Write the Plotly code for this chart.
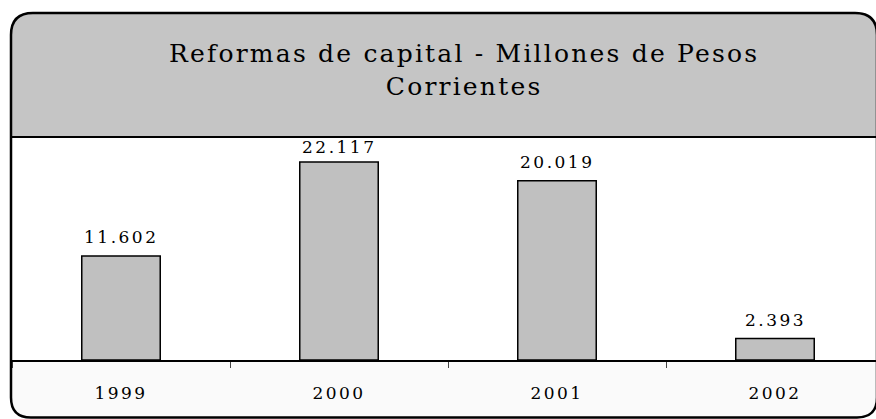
import plotly.graph_objects as go

years = ["1999", "2000", "2001", "2002"]
values = [11.602, 22.117, 20.019, 2.393]
labels = ["11.602", "22.117", "20.019", "2.393"]
title_lines = ["Reformas de capital - Millones de Pesos", "Corrientes"]

W, H = 876, 419
FONT = "DejaVu Serif"
Y_MAX = 24.9

def px(x):
    return x / W

def py(y):
    return 1 - y / H

def spaced(s, sp):
    return f'<span style="letter-spacing:{sp}px">{s}</span>'

top_band, axis_y, left_x = 137, 360, 12
X0, Y0, X1, Y1 = 11, 13, 877, 417.5
r = 22

fig = go.Figure()
fig.add_trace(go.Bar(
    x=years, y=values,
    marker=dict(color="#c0c0c0", line=dict(color="black", width=1.5)),
    width=0.36, cliponaxis=False, hoverinfo="skip",
))

# label offsets: keep labels inside the plot area (Excel-style clamp)
ppu = (axis_y - top_band) / Y_MAX
annotations = []
for i, (v, lab) in enumerate(zip(values, labels)):
    bar_top_px = axis_y - v * ppu
    room = bar_top_px - top_band - 4 - 13 - 5
    shift = max(2, min(7, room))
    annotations.append(dict(
        x=i, y=v, xref="x", yref="y", text=spaced(lab, 2.5), showarrow=False,
        yanchor="bottom", xanchor="center", yshift=shift,
        font=dict(family=FONT, size=17, color="black"),
    ))

def rounded_path(x0, y0, x1, y1, rt, rb):
    p = []
    p.append(f"M {px(x0)},{py(y1 - rb)}")
    p.append(f"L {px(x0)},{py(y0 + rt)}")
    if rt:
        p.append(f"Q {px(x0)},{py(y0)} {px(x0 + rt)},{py(y0)}")
    p.append(f"L {px(x1 - rt)},{py(y0)}")
    if rt:
        p.append(f"Q {px(x1)},{py(y0)} {px(x1)},{py(y0 + rt)}")
    p.append(f"L {px(x1)},{py(y1 - rb)}")
    if rb:
        p.append(f"Q {px(x1)},{py(y1)} {px(x1 - rb)},{py(y1)}")
    p.append(f"L {px(x0 + rb)},{py(y1)}")
    if rb:
        p.append(f"Q {px(x0)},{py(y1)} {px(x0)},{py(y1 - rb)}")
    p.append("Z")
    return " ".join(p)

shapes = []
shapes.append(dict(type="path", xref="paper", yref="paper", layer="below",
                   path=rounded_path(X0, axis_y, X1, Y1, 0, 20),
                   fillcolor="#fafafa", line=dict(width=0)))
shapes.append(dict(type="path", xref="paper", yref="paper", layer="below",
                   path=rounded_path(X0, Y0, X1, top_band, r, 0),
                   fillcolor="#c5c5c5", line=dict(width=0)))
shapes.append(dict(type="line", xref="paper", yref="paper",
                   x0=px(X0), x1=px(X1), y0=py(top_band), y1=py(top_band),
                   line=dict(color="black", width=2)))
shapes.append(dict(type="path", xref="paper", yref="paper",
                   path=rounded_path(X0, Y0, X1, Y1, r, 20),
                   fillcolor="rgba(0,0,0,0)", line=dict(color="black", width=2.5)))

annotations.append(dict(
    xref="paper", yref="paper", x=px(464), y=py(70),
    text="<br>".join(spaced(t, 2.2) for t in title_lines), showarrow=False,
    font=dict(family=FONT, size=25, color="black"),
    align="center", xanchor="center", yanchor="middle",
))

fig.update_layout(
    width=W, height=H,
    margin=dict(l=0, r=0, t=0, b=0),
    paper_bgcolor="white",
    plot_bgcolor="white",
    showlegend=False,
    shapes=shapes,
    annotations=annotations,
    xaxis=dict(
        type="category",
        domain=[px(left_x), 1],
        range=[-0.5, 3.5 - 8 / 218],
        showgrid=False, zeroline=False,
        showline=True, linecolor="black", linewidth=1.5,
        ticks="outside", tickson="boundaries", ticklen=6, tickcolor="#444", tickwidth=1,
        tickmode="array", tickvals=years, ticktext=[spaced(y, 2.5) for y in years],
        tickfont=dict(family=FONT, size=17, color="black"),
        ticklabelstandoff=17,
    ),
    yaxis=dict(
        domain=[py(axis_y), py(top_band)],
        range=[0, Y_MAX],
        visible=False,
    ),
)

fig.write_html("out.html", config={"displayModeBar": False},
               post_script="document.body.style.margin='0';document.body.style.overflow='hidden';")
